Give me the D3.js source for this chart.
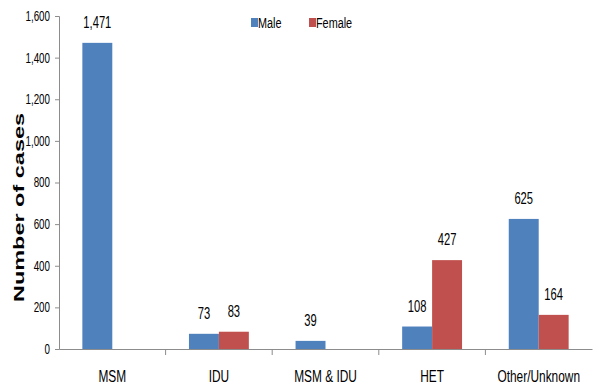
<!DOCTYPE html>
<html>
<head>
<meta charset="utf-8">
<script src="https://cdn.jsdelivr.net/npm/d3@7"></script>
<style>
  html, body { margin: 0; padding: 0; background: #fff; }
  svg { display: block; }
  text { font-family: "Liberation Sans", Arial, sans-serif; fill: #000; }
</style>
</head>
<body>
<svg id="chart" width="594" height="386"></svg>
<script>
// Cases by exposure category and sex
const categories = ["MSM", "IDU", "MSM & IDU", "HET", "Other/Unknown"];
const seriesNames = ["Male", "Female"];
const maleValues = [1471, 73, 39, 108, 625];
const femaleValues = [null, 83, null, 427, 164];
const yTicks = [0, 200, 400, 600, 800, 1000, 1200, 1400, 1600];
const colors = ["#4F81BD", "#C0504D"];
const axisColor = "#8c8c8c";
// horizontal squeeze applied to the condensed-looking labels
const SX = 0.7;

const svg = d3.select("#chart");
const margin = { left: 59, right: 2, top: 16, bottom: 37 };
const W = 594, H = 386;

const x = d3.scaleBand().domain(categories).range([margin.left, W - margin.right]).paddingInner(0).paddingOuter(0);
const xs = d3.scaleBand().domain(seriesNames).range([0, x.bandwidth()]).paddingInner(0).paddingOuter(0.78);
const y = d3.scaleLinear().domain([0, 1600]).range([H - margin.bottom, margin.top]);

const rows = categories.map((c, i) => ({ cat: c, values: [maleValues[i], femaleValues[i]] }));
const present = d => d.values.map((v, j) => ({ v, j })).filter(e => e.v != null);

// Bars
const groups = svg.append("g").selectAll("g").data(rows).join("g")
  .attr("transform", d => `translate(${x(d.cat)},0)`);

groups.selectAll("rect")
  .data(present)
  .join("rect")
  .attr("x", e => xs(seriesNames[e.j]))
  .attr("width", xs.bandwidth())
  .attr("y", e => y(e.v))
  .attr("height", e => y(0) - y(e.v))
  .attr("fill", e => colors[e.j]);

// Value labels above bars
groups.selectAll("text")
  .data(present)
  .join("text")
  .attr("transform", e => `translate(${xs(seriesNames[e.j]) + xs.bandwidth() / 2},${y(e.v) - 15}) scale(${SX},1)`)
  .attr("text-anchor", "middle")
  .attr("font-size", 16)
  .text(e => d3.format(",")(e.v));

// Y axis
const yAxis = svg.append("g")
  .attr("transform", `translate(${margin.left},0)`)
  .call(d3.axisLeft(y).tickValues(yTicks).tickFormat(d3.format(",")).tickSizeOuter(0).tickSize(4).tickPadding(5));
yAxis.select(".domain").attr("stroke", axisColor);
yAxis.selectAll(".tick line").attr("stroke", axisColor);
yAxis.selectAll(".tick text")
  .attr("font-size", 14)
  .attr("fill", "#000")
  .attr("x", -9 / SX)
  .attr("transform", `scale(${SX},1)`);

// X axis
const xAxis = svg.append("g")
  .attr("transform", `translate(0,${y(0)})`)
  .call(d3.axisBottom(x).tickSize(0).tickPadding(0));
xAxis.select(".domain").attr("stroke", axisColor);
xAxis.selectAll(".tick text")
  .attr("font-size", 17)
  .attr("fill", "#000")
  .attr("dy", null)
  .attr("y", 33)
  .attr("transform", `scale(${SX},1)`);
// Separators between categories
xAxis.selectAll("line.sep")
  .data(categories.slice(1))
  .join("line")
  .attr("class", "sep")
  .attr("x1", d => x(d)).attr("x2", d => x(d))
  .attr("y1", 0).attr("y2", 6)
  .attr("stroke", axisColor);

// Y axis title, stretched along its length
svg.append("text")
  .attr("transform", `translate(24,${(y(0) + y(1600)) / 2 + 25}) scale(1,1.62) rotate(-90)`)
  .attr("text-anchor", "middle")
  .attr("font-weight", "bold")
  .attr("font-size", 14.5)
  .text("Number of cases");

// Legend
const legend = svg.append("g");
const legendX = [251, 309];
seriesNames.forEach((s, i) => {
  legend.append("rect").attr("x", legendX[i]).attr("y", 18).attr("width", 7).attr("height", 9).attr("fill", colors[i]);
  legend.append("text")
    .attr("transform", `translate(${legendX[i] + 7},28) scale(${SX},1)`)
    .attr("font-size", 15.5)
    .text(s);
});
</script>
</body>
</html>
